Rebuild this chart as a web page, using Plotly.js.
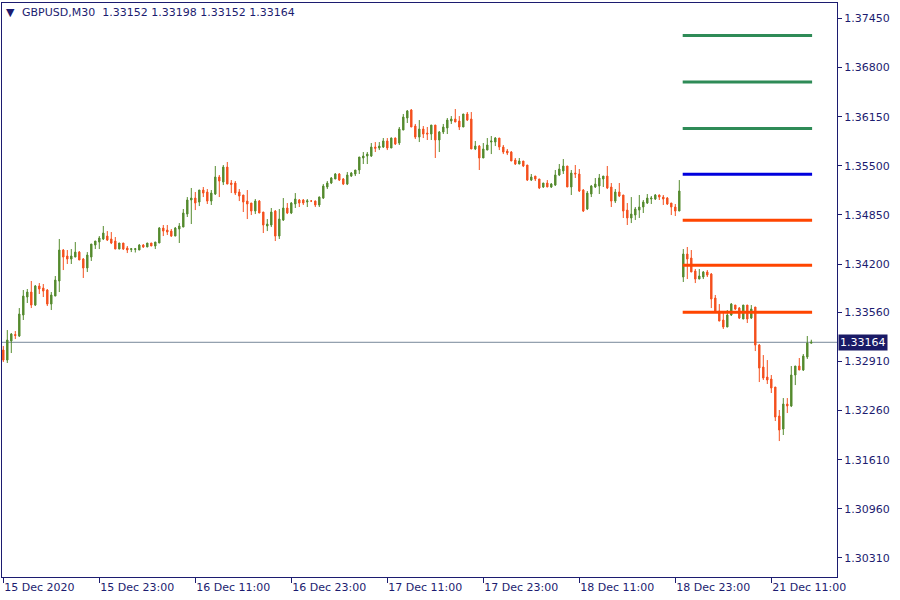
<!DOCTYPE html>
<html><head><meta charset="utf-8">
<script src="https://cdn.plot.ly/plotly-3.0.1.min.js"></script>
<style>html,body{margin:0;padding:0;background:#fff}#chart{width:900px;height:600px}</style>
</head><body><div id="chart"></div>
<script>
const symbol = "GBPUSD,M30";

const open = [1.33062,1.32929,1.33181,1.33267,1.33247,1.33525,1.33763,1.33829,1.33657,1.33909,
1.33882,1.33856,1.33670,1.33776,1.33975,1.34385,1.34306,1.34266,1.34292,1.34358,
1.34266,1.34147,1.34292,1.34451,1.34491,1.34531,1.34570,1.34531,1.34504,1.34398,
1.34478,1.34412,1.34392,1.34392,1.34385,1.34451,1.34425,1.34478,1.34438,1.34478,
1.34676,1.34650,1.34636,1.34570,1.34663,1.34689,1.34861,1.35047,1.35073,1.35020,
1.35179,1.35153,1.35033,1.35126,1.35351,1.35285,1.35483,1.35272,1.35272,1.35153,
1.35113,1.35033,1.35007,1.34901,1.35033,1.34888,1.34703,1.34716,1.34901,1.34570,
1.34782,1.34941,1.34875,1.34994,1.35047,1.35047,1.35020,1.35033,1.35033,1.34981,
1.35073,1.35219,1.35272,1.35325,1.35391,1.35325,1.35258,1.35364,1.35391,1.35444,
1.35603,1.35629,1.35629,1.35748,1.35735,1.35748,1.35828,1.35735,1.35867,1.35801,
1.35973,1.36132,1.36238,1.36026,1.35880,1.35986,1.35933,1.35920,1.36039,1.35841,
1.35947,1.36000,1.36092,1.36119,1.36092,1.36013,1.36185,1.36119,1.35722,1.35761,
1.35603,1.35708,1.35814,1.35814,1.35867,1.35748,1.35695,1.35682,1.35576,1.35523,
1.35563,1.35510,1.35311,1.35364,1.35325,1.35219,1.35272,1.35219,1.35245,1.35378,
1.35431,1.35497,1.35219,1.35404,1.35391,1.35179,1.34928,1.35126,1.35219,1.35232,
1.35325,1.35364,1.35219,1.35033,1.35153,1.35113,1.34914,1.34809,1.34848,1.34914,
1.34954,1.35007,1.35060,1.35060,1.35113,1.35086,1.35073,1.35007,1.34954,1.34901,
1.34028,1.34332,1.34279,1.34107,1.34001,1.34028,1.34094,1.34067,1.33750,1.33578,
1.33459,1.33366,1.33525,1.33657,1.33617,1.33472,1.33657,1.33485,1.33631,1.33128,
1.32837,1.32704,1.32678,1.32572,1.32188,1.32016,1.32347,1.32321,1.32731,1.32850,
1.32797,1.32969,1.33152];

const high = [1.33115,1.33326,1.33287,1.33313,1.33617,1.33856,1.33869,1.33975,1.33922,1.33948,
1.33935,1.33869,1.33829,1.34041,1.34531,1.34398,1.34385,1.34398,1.34491,1.34372,
1.34279,1.34358,1.34464,1.34504,1.34570,1.34703,1.34636,1.34623,1.34557,1.34478,
1.34478,1.34438,1.34412,1.34412,1.34464,1.34464,1.34478,1.34478,1.34491,1.34689,
1.34716,1.34716,1.34663,1.34689,1.34742,1.34928,1.35086,1.35206,1.35153,1.35179,
1.35219,1.35192,1.35179,1.35497,1.35378,1.35510,1.35550,1.35311,1.35298,1.35192,
1.35113,1.35179,1.35007,1.35060,1.35047,1.34888,1.34795,1.34941,1.34914,1.34928,
1.35073,1.35007,1.35020,1.35139,1.35060,1.35060,1.35060,1.35047,1.35040,1.35093,
1.35258,1.35298,1.35351,1.35404,1.35404,1.35338,1.35417,1.35417,1.35444,1.35616,
1.35682,1.35682,1.35801,1.35814,1.35814,1.35867,1.35867,1.35874,1.35874,1.36013,
1.36185,1.36238,1.36251,1.36053,1.36105,1.36026,1.36013,1.36039,1.36039,1.35960,
1.36053,1.36132,1.36158,1.36251,1.36158,1.36185,1.36211,1.36211,1.35828,1.35775,
1.35801,1.35867,1.35894,1.35880,1.35867,1.35775,1.35722,1.35695,1.35603,1.35603,
1.35563,1.35510,1.35391,1.35364,1.35325,1.35272,1.35311,1.35272,1.35444,1.35523,
1.35589,1.35497,1.35444,1.35510,1.35457,1.35192,1.35166,1.35245,1.35338,1.35391,
1.35364,1.35497,1.35272,1.35192,1.35272,1.35113,1.35007,1.35086,1.34954,1.35113,
1.35047,1.35126,1.35100,1.35126,1.35119,1.35113,1.35086,1.35007,1.34994,1.35311,
1.34398,1.34425,1.34385,1.34134,1.34134,1.34107,1.34120,1.34081,1.33790,1.33670,
1.33551,1.33591,1.33684,1.33657,1.33631,1.33657,1.33657,1.33657,1.33631,1.33141,
1.32995,1.32929,1.32731,1.32572,1.32268,1.32426,1.32426,1.32850,1.32850,1.32956,
1.33009,1.33247,1.33198];

const low = [1.32903,1.32890,1.33022,1.33207,1.33234,1.33459,1.33684,1.33617,1.33644,1.33803,
1.33763,1.33644,1.33591,1.33776,1.33829,1.34120,1.34200,1.34200,1.34292,1.34253,
1.34015,1.34094,1.34240,1.34398,1.34398,1.34517,1.34504,1.34464,1.34398,1.34398,
1.34385,1.34345,1.34358,1.34352,1.34385,1.34412,1.34425,1.34438,1.34398,1.34478,
1.34570,1.34584,1.34557,1.34570,1.34478,1.34689,1.34822,1.34729,1.34914,1.34967,
1.35086,1.34994,1.34981,1.35113,1.35086,1.35245,1.35258,1.35139,1.35113,1.35033,
1.34888,1.34795,1.34848,1.34861,1.34875,1.34610,1.34636,1.34689,1.34504,1.34531,
1.34769,1.34861,1.34861,1.34941,1.34954,1.34981,1.34954,1.35020,1.34954,1.34954,
1.35060,1.35192,1.35258,1.35325,1.35298,1.35245,1.35245,1.35351,1.35364,1.35391,
1.35523,1.35523,1.35616,1.35682,1.35708,1.35735,1.35708,1.35735,1.35775,1.35775,
1.35973,1.36066,1.36013,1.35854,1.35814,1.35867,1.35841,1.35841,1.35603,1.35682,
1.35920,1.35920,1.36053,1.36079,1.35973,1.36013,1.36092,1.35722,1.35708,1.35444,
1.35603,1.35708,1.35655,1.35761,1.35708,1.35655,1.35642,1.35563,1.35510,1.35523,
1.35483,1.35298,1.35298,1.35298,1.35192,1.35206,1.35219,1.35206,1.35232,1.35364,
1.35391,1.35219,1.35113,1.35338,1.35153,1.34888,1.34914,1.35086,1.35206,1.35126,
1.35219,1.35192,1.34954,1.35007,1.35086,1.34809,1.34716,1.34742,1.34782,1.34809,
1.34875,1.34994,1.34994,1.35047,1.35047,1.34981,1.34981,1.34848,1.34835,1.34901,
1.33962,1.34001,1.34094,1.33948,1.34001,1.34001,1.34028,1.33617,1.33565,1.33445,
1.33340,1.33366,1.33512,1.33591,1.33472,1.33472,1.33419,1.33472,1.33048,1.32638,
1.32665,1.32612,1.32493,1.32122,1.31857,1.31937,1.32228,1.32307,1.32598,1.32797,
1.32784,1.32943,1.33152];

const close = [1.32929,1.33194,1.33273,1.33253,1.33538,1.33776,1.33829,1.33657,1.33909,1.33869,
1.33842,1.33670,1.33790,1.33988,1.34385,1.34292,1.34266,1.34306,1.34358,1.34253,
1.34147,1.34319,1.34464,1.34504,1.34544,1.34610,1.34517,1.34478,1.34398,1.34478,
1.34398,1.34385,1.34402,1.34402,1.34451,1.34425,1.34478,1.34438,1.34491,1.34676,
1.34636,1.34623,1.34570,1.34676,1.34703,1.34875,1.35047,1.35073,1.35007,1.35179,
1.35139,1.35033,1.35139,1.35351,1.35298,1.35483,1.35258,1.35252,1.35139,1.35100,
1.35020,1.34994,1.34901,1.35033,1.34875,1.34716,1.34729,1.34888,1.34570,1.34795,
1.34941,1.34875,1.35007,1.35060,1.35007,1.35007,1.35037,1.35033,1.34981,1.35086,
1.35232,1.35272,1.35338,1.35391,1.35311,1.35258,1.35378,1.35404,1.35444,1.35616,
1.35629,1.35655,1.35748,1.35731,1.35761,1.35828,1.35735,1.35867,1.35788,1.35986,
1.36145,1.36225,1.36013,1.35880,1.35986,1.35920,1.35920,1.36039,1.35841,1.35947,
1.36013,1.36105,1.36119,1.36079,1.36013,1.36185,1.36105,1.35722,1.35761,1.35603,
1.35722,1.35775,1.35828,1.35867,1.35748,1.35682,1.35669,1.35563,1.35523,1.35563,
1.35497,1.35311,1.35351,1.35325,1.35206,1.35272,1.35219,1.35258,1.35378,1.35457,
1.35497,1.35219,1.35404,1.35391,1.35166,1.34901,1.35139,1.35232,1.35258,1.35338,
1.35364,1.35206,1.35033,1.35153,1.35100,1.34901,1.34809,1.34861,1.34928,1.34954,
1.35020,1.35073,1.35073,1.35113,1.35086,1.35060,1.34994,1.34954,1.34901,1.35166,
1.34332,1.34266,1.34094,1.34001,1.34041,1.34094,1.34054,1.33737,1.33578,1.33445,
1.33366,1.33525,1.33670,1.33604,1.33485,1.33657,1.33472,1.33604,1.33128,1.32823,
1.32691,1.32665,1.32559,1.32175,1.32003,1.32347,1.32321,1.32731,1.32850,1.32797,
1.32982,1.33154,1.33164];

const tickBars = [1, 25, 49, 73, 97, 121, 145, 169, 193];
const tickLabels = ["15 Dec 2020", "15 Dec 23:00", "16 Dec 11:00", "16 Dec 23:00", "17 Dec 11:00",
                    "17 Dec 23:00", "18 Dec 11:00", "18 Dec 23:00", "21 Dec 11:00"];
const priceTicks = [1.37450, 1.36800, 1.36150, 1.35500, 1.34850, 1.34200,
                    1.33560, 1.32910, 1.32260, 1.31610, 1.30960, 1.30310];
const levels = [1.37224, 1.36608, 1.35993, 1.35387, 1.34778, 1.34183, 1.33561];
const levelColors = ["#2e8b57", "#2e8b57", "#2e8b57", "#0000dd", "#ff4500", "#ff4500", "#ff4500"];

const GREEN = "#558b2f", RED = "#f4511e", NAVY = "#1c1c70";
const FONT = "DejaVu Sans";
const bars = open.map((_, i) => i + 1);
const n = open.length;
const lastO = open[n-1], lastH = high[n-1], lastL = low[n-1], lastC = close[n-1];
const fmt = v => v.toFixed(5);

const trace = {
  type: 'candlestick', x: bars, open: open, high: high, low: low, close: close,
  increasing: {line: {color: GREEN, width: 1}, fillcolor: GREEN},
  decreasing: {line: {color: RED, width: 1}, fillcolor: RED},
  whiskerwidth: 0, hoverinfo: 'skip', showlegend: false
};

const shapes = [{
  type: 'line', xref: 'paper', x0: 0, x1: 1, yref: 'y', y0: lastC, y1: lastC,
  line: {color: '#778899', width: 1}, layer: 'below'
}];
levels.forEach((lv, i) => shapes.push({
  type: 'line', xref: 'x', x0: 170.85, x1: 203.2, yref: 'y', y0: lv, y1: lv,
  line: {color: levelColors[i], width: 3}
}));

const annotations = [
  {xref: 'paper', yref: 'paper', x: 0, y: 1, xanchor: 'left', yanchor: 'middle', xshift: 2, yshift: -9,
   text: '\u25BC', showarrow: false, font: {family: FONT, size: 11, color: NAVY}},
  {xref: 'paper', yref: 'paper', x: 0, y: 1, xanchor: 'left', yanchor: 'middle', xshift: 18, yshift: -9,
   text: symbol + '\u00a0\u00a0' + [lastO, lastH, lastL, lastC].map(fmt).join(' '),
   showarrow: false, font: {family: FONT, size: 11, color: NAVY}},
  {xref: 'paper', yref: 'y', x: 1, y: lastC, xanchor: 'left', yanchor: 'middle', xshift: 1,
   text: fmt(lastC), showarrow: false, bgcolor: '#1a1a66', borderpad: 1,
   font: {family: FONT, size: 11, color: '#ffffff'}}
];

const layout = {
  width: 900, height: 600,
  margin: {l: 2, r: 63, t: 3, b: 23},
  paper_bgcolor: '#ffffff', plot_bgcolor: '#ffffff',
  boxgap: 0.5,
  font: {family: FONT, size: 11, color: NAVY},
  xaxis: {
    type: 'linear', range: [0.675, 209.425], showgrid: false, zeroline: false,
    showline: true, mirror: true, linecolor: NAVY, linewidth: 1,
    ticks: 'outside', ticklen: 5, tickcolor: NAVY, tickwidth: 1,
    tickvals: tickBars, ticktext: tickLabels, ticklabelposition: 'outside right',
    tickfont: {family: FONT, size: 11, color: NAVY},
    rangeslider: {visible: false}, fixedrange: true
  },
  yaxis: {
    side: 'right', range: [1.30058, 1.37654], showgrid: false, zeroline: false,
    showline: true, mirror: true, linecolor: NAVY, linewidth: 1,
    ticks: 'outside', ticklen: 4, tickcolor: NAVY, tickwidth: 1,
    tickvals: priceTicks, ticktext: priceTicks.map(fmt),
    tickfont: {family: FONT, size: 11, color: NAVY}, fixedrange: true
  },
  shapes: shapes, annotations: annotations
};

Plotly.newPlot('chart', [trace], layout, {staticPlot: true, displayModeBar: false});
</script>
</body></html>
